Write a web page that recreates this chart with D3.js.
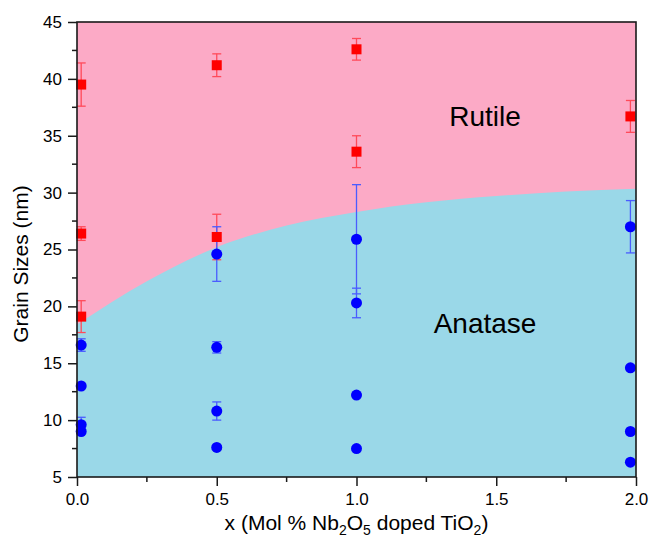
<!DOCTYPE html>
<html>
<head>
<meta charset="utf-8">
<title>Grain sizes</title>
<script src="https://d3js.org/d3.v7.min.js"></script>
<style>
  body { margin: 0; background: #fff; }
  text { font-family: "Liberation Sans", Arial, sans-serif; fill: #000; }
  .axis line { stroke: #1a1a1a; stroke-width: 1.5px; }
  .axis text { font-size: 17px; }
</style>
</head>
<body>
<div id="chart"></div>
<script>
// values
var rutileX   = [0.015, 0.015, 0.015, 0.5, 0.5, 1.0, 1.0, 1.98];
var rutileY   = [39.5, 26.4, 19.1, 41.2, 26.1, 42.6, 33.6, 36.7];
var rutileErr = [1.9, 0.6, 1.4, 1.0, 2.0, 0.95, 1.4, 1.4];

var anataseX   = [0.015, 0.015, 0.015, 0.015, 0.5, 0.5, 0.5, 0.5, 1.0, 1.0, 1.0, 1.0, 1.98, 1.98, 1.98, 1.98];
var anataseY   = [16.6, 13.0, 9.6, 9.0, 24.6, 16.4, 10.8, 7.6, 25.9, 20.3, 12.2, 7.5, 27.0, 14.6, 9.0, 6.3];
var anataseErr = [0.55, 0, 0.65, 0, 2.4, 0.5, 0.8, 0, 4.8, 1.3, 0, 0, 2.3, 0, 0, 0];

// phase boundary between the two shaded regions
var boundaryX = [0, 0.25, 0.5, 0.75, 1.0, 1.25, 1.5, 1.75, 2.0];
var boundaryY = [18.4, 22.2, 25.2, 27.1, 28.3, 29.15, 29.7, 30.1, 30.35];

var xTicks = [0, 0.5, 1.0, 1.5, 2.0];
var xMinor = [0.25, 0.75, 1.25, 1.75];
var yTicks = [5, 10, 15, 20, 25, 30, 35, 40, 45];
var yMinor = [7.5, 12.5, 17.5, 22.5, 27.5, 32.5, 37.5, 42.5];

var W = 649, H = 545,
    margin = {top: 22, right: 13, bottom: 68, left: 77},
    width = W - margin.left - margin.right,
    height = H - margin.top - margin.bottom;

var x = d3.scaleLinear().domain([0, 2]).range([0, width]);
var y = d3.scaleLinear().domain([5, 45]).range([height, 0]);

var svg = d3.select('#chart').append('svg')
    .attr('width', W).attr('height', H);
var g = svg.append('g').attr('transform', 'translate(' + margin.left + ',' + margin.top + ')');

// backgrounds
g.append('rect').attr('width', width).attr('height', height).attr('fill', '#fcaac6');

var bnd = boundaryX.map(function(d, i) { return [d, boundaryY[i]]; });
var area = d3.area()
    .x(function(d) { return x(d[0]); })
    .y0(height)
    .y1(function(d) { return y(d[1]); })
    .curve(d3.curveMonotoneX);
g.append('path').datum(bnd).attr('d', area).attr('fill', '#9ad8e8');

g.append('text').attr('x', x(1.46)).attr('y', y(45) + 104)
  .attr('text-anchor', 'middle').style('font-size', '28px').text('Rutile');
g.append('text').attr('x', x(1.46)).attr('y', y(45) + 311)
  .attr('text-anchor', 'middle').style('font-size', '28px').text('Anatase');

// error bars
function errorBars(xs, ys, es, color) {
  var data = xs.map(function(d, i) { return {x: d, y: ys[i], e: es[i]}; })
    .filter(function(d) { return d.e > 0; });
  var eb = g.append('g').attr('stroke', color).attr('stroke-width', 1.3).attr('fill', 'none');
  eb.selectAll('.v').data(data).enter().append('line')
    .attr('x1', function(d) { return x(d.x); }).attr('x2', function(d) { return x(d.x); })
    .attr('y1', function(d) { return y(d.y + d.e); }).attr('y2', function(d) { return y(d.y - d.e); });
  [1, -1].forEach(function(s) {
    eb.selectAll('.c' + s).data(data).enter().append('line')
      .attr('x1', function(d) { return x(d.x) - 4.5; }).attr('x2', function(d) { return x(d.x) + 4.5; })
      .attr('y1', function(d) { return y(d.y + s * d.e); }).attr('y2', function(d) { return y(d.y + s * d.e); });
  });
}
errorBars(rutileX, rutileY, rutileErr, '#ff4a5a');
errorBars(anataseX, anataseY, anataseErr, '#4a5cff');

// markers
g.selectAll('.sq').data(rutileX).enter().append('rect')
  .attr('x', function(d) { return x(d) - 5; })
  .attr('y', function(d, i) { return y(rutileY[i]) - 5; })
  .attr('width', 10).attr('height', 10).attr('fill', '#ff0000');

g.selectAll('.dot').data(anataseX).enter().append('circle')
  .attr('cx', function(d) { return x(d); })
  .attr('cy', function(d, i) { return y(anataseY[i]); })
  .attr('r', 5.5).attr('fill', '#0000ff');

// axes
var yAxis = g.append('g').attr('class', 'axis')
  .call(d3.axisLeft(y).tickValues(yTicks).tickSize(9).tickSizeOuter(0).tickPadding(6).tickFormat(d3.format('d')));
yAxis.select('.domain').remove();
yAxis.selectAll('.minor').data(yMinor).enter().append('line').attr('class', 'minor')
  .attr('x1', -5).attr('x2', 0).attr('y1', function(d) { return y(d); }).attr('y2', function(d) { return y(d); });

var xAxis = g.append('g').attr('class', 'axis').attr('transform', 'translate(0,' + height + ')')
  .call(d3.axisBottom(x).tickValues(xTicks).tickSize(9).tickSizeOuter(0).tickPadding(7).tickFormat(d3.format('.1f')));
xAxis.select('.domain').remove();
xAxis.selectAll('.minor').data(xMinor).enter().append('line').attr('class', 'minor')
  .attr('y1', 0).attr('y2', 5).attr('x1', function(d) { return x(d); }).attr('x2', function(d) { return x(d); });

// frame
g.append('rect').attr('width', width).attr('height', height)
  .attr('fill', 'none').attr('stroke', '#1a1a1a').attr('stroke-width', 1.6);

// titles
svg.append('text').attr('transform', 'translate(28,264) rotate(-90)')
  .attr('text-anchor', 'middle').style('font-size', '21px').text('Grain Sizes (nm)');

var xt = svg.append('text').attr('x', margin.left + width / 2).attr('y', 530)
  .attr('text-anchor', 'middle').style('font-size', '21px');
xt.append('tspan').text('x (Mol % Nb');
xt.append('tspan').attr('dy', 5).style('font-size', '14px').text('2');
xt.append('tspan').attr('dy', -5).text('O');
xt.append('tspan').attr('dy', 5).style('font-size', '14px').text('5');
xt.append('tspan').attr('dy', -5).text(' doped TiO');
xt.append('tspan').attr('dy', 5).style('font-size', '14px').text('2');
xt.append('tspan').attr('dy', -5).text(')');
</script>
</body>
</html>
